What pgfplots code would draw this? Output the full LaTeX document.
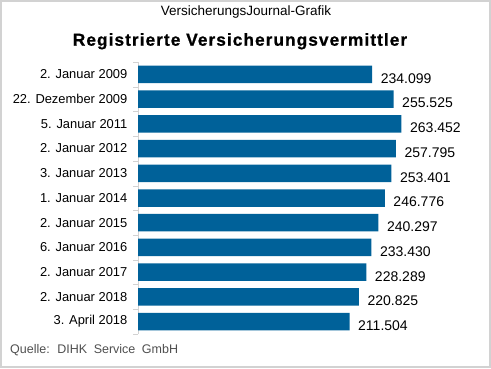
\documentclass[border=0pt]{standalone}
\usepackage{fontspec}
\setmainfont{Liberation Sans}
\newfontfamily\titlefont[LetterSpace=6, BoldFeatures={FakeBold=0.8}]{Liberation Sans}
\usepackage{pgfplots}
\pgfplotsset{compat=1.18}
\definecolor{barblue}{RGB}{0,97,153}
\definecolor{framegray}{RGB}{210,210,210}
\definecolor{srcgray}{RGB}{80,80,80}
\begin{document}
\begin{tikzpicture}[x=1bp,y=1bp]
\fill[white] (0,0) rectangle (491,368);
\draw[framegray, line width=2bp] (1,1) rectangle (490,367);
\node[anchor=base, inner sep=0] at (246,352.3) {\fontsize{13.5bp}{16bp}\selectfont VersicherungsJournal-Grafik};
\node[anchor=base, inner sep=0] at (240,322.3) {\titlefont\bfseries\fontsize{17.3bp}{20bp}\selectfont Registrierte Versicherungsvermittler};
\node[anchor=base west, inner sep=0, text=srcgray] at (10,15) {\fontsize{12.5bp}{15bp}\selectfont Quelle:\hspace{3bp} DIHK\hspace{3bp} Service\hspace{3bp} GmbH};
\begin{axis}[
  at={(138bp,34bp)}, anchor=south west,
  scale only axis, width=342bp, height=272bp,
  xmin=0, xmax=342000, ymin=-0.5, ymax=10.5,
  y dir=reverse,
  xbar, bar width=17.5bp,
  axis x line=none, axis y line=left,
  y axis line style={draw=framegray, -},
  ytick={0,...,10},
  yticklabels={2. Januar 2009,22. Dezember 2009,5. Januar 2011,2. Januar 2012,3. Januar 2013,1. Januar 2014,2. Januar 2015,6. Januar 2016,2. Januar 2017,2. Januar 2018,3. April 2018},
  major tick length=0,
  minor ytick={-0.5,0.5,...,10.5},
  minor tick length=5bp,
  tick align=outside,
  tick style={draw=framegray},
  yticklabel style={font=\fontsize{12.9bp}{15bp}\selectfont, inner sep=0, xshift=-10.5bp, anchor=east},
  point meta=explicit symbolic,
  nodes near coords={\pgfplotspointmeta},
  nodes near coords style={anchor=west, inner sep=0, xshift=8.5bp, yshift=-4bp, font=\fontsize{14bp}{16bp}\selectfont, text=black},
]
\addplot[fill=barblue, draw=none] coordinates {
(234099,0) [234.099]
(255525,1) [255.525]
(263452,2) [263.452]
(257795,3) [257.795]
(253401,4) [253.401]
(246776,5) [246.776]
(240297,6) [240.297]
(233430,7) [233.430]
(228289,8) [228.289]
(220825,9) [220.825]
(211504,10) [211.504]
};
\end{axis}
\end{tikzpicture}
\end{document}
